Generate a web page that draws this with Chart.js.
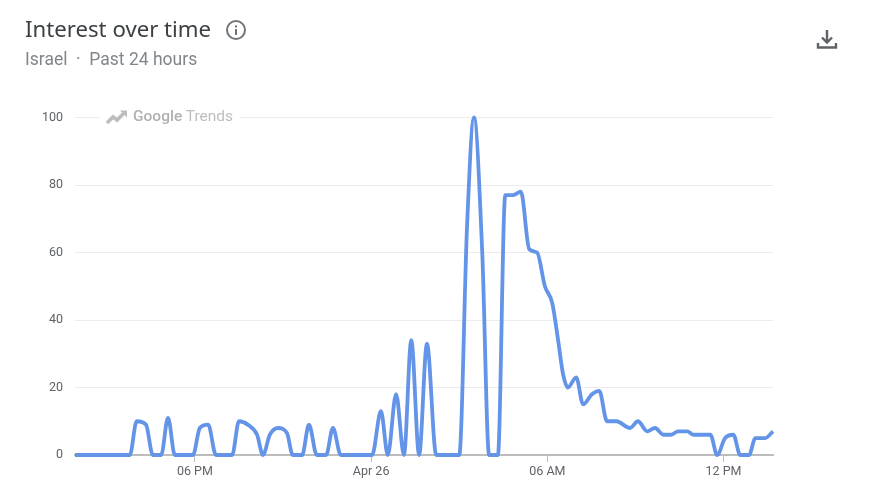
<!DOCTYPE html>
<html>
<head>
<meta charset="utf-8">
<title>Interest over time</title>
<script src="https://cdn.jsdelivr.net/npm/chart.js@4"></script>
<style>
	html, body { margin: 0; padding: 0; background: #fff; }
	#wrap { position: relative; width: 882px; height: 490px; overflow: hidden; font-family: Roboto, sans-serif; }
	#chart { position: absolute; left: 0; top: 0; }
	.title { position: absolute; left: 25px; top: 15px; font-family: "Noto Sans", sans-serif; font-size: 22.2px; line-height: 28px; color: #3c4043; white-space: nowrap; }
	.subtitle { position: absolute; left: 25px; top: 48px; font-size: 17.5px; line-height: 22px; color: #80868b; white-space: nowrap; }
	.info { position: absolute; left: 225px; top: 19px; }
	.download { position: absolute; left: 814px; top: 26px; }
	.mark { position: absolute; left: 100px; top: 106px; width: 140px; height: 22px; background: #fff; }
	.mark svg { position: absolute; left: 5px; top: 2px; }
	.mark span { position: absolute; left: 33px; top: 0; font-size: 15.5px; line-height: 20px; color: #bdbdbd; white-space: nowrap; }
	.mark b { font-weight: 500; color: #b0b0b0; }
</style>
</head>
<body>
<div id="wrap">
	<canvas id="chart" width="882" height="490"></canvas>
	<div class="title">Interest over time</div>
	<div class="subtitle">Israel &nbsp;&middot;&nbsp; Past 24 hours</div>
	<svg class="info" width="22" height="22" viewBox="0 0 22 22">
		<circle cx="11" cy="11" r="9" fill="none" stroke="#70757a" stroke-width="2"></circle>
		<rect x="10" y="10" width="2" height="6" fill="#70757a"></rect>
		<rect x="10" y="6.5" width="2" height="2" fill="#70757a"></rect>
	</svg>
	<svg class="download" width="26" height="26" viewBox="0 0 26 26">
		<path d="M13 4v12M8 11.5l5 5 5-5M4 17v4.5h18V17" fill="none" stroke="#5f6368" stroke-width="2.4"></path>
	</svg>
	<div class="mark">
		<svg width="24" height="18" viewBox="0 0 24 18">
			<path d="M2 15l6-6 4 3 8-8" fill="none" stroke="#bdbdbd" stroke-width="3.6"></path>
			<path d="M15 2.5h7v7z" fill="#bdbdbd"></path>
		</svg>
		<span><b>Google</b> Trends</span>
	</div>
</div>
<script>
// minutes counted from midnight of Apr 25
var minutes = [835, 947, 961, 980, 994, 1011, 1025, 1039, 1076, 1090, 1107, 1123, 1156, 1170, 1188, 1207, 1219,
	1233, 1250, 1268, 1280, 1299, 1313, 1329, 1348, 1362, 1378, 1442, 1460, 1474, 1491, 1507, 1522, 1538, 1554, 1573,
	1620, 1636, 1650, 1667, 1681, 1699, 1714, 1730, 1746, 1763, 1779, 1795, 1810, 1822, 1832, 1842, 1859, 1873, 1891,
	1906, 1922, 1941, 1969, 1985, 2004, 2020, 2037, 2053, 2067, 2086, 2098, 2133, 2147, 2163, 2180, 2194, 2212, 2225,
	2245, 2261];
var interest = [0, 0, 10, 9, 0, 0, 11, 0, 0, 8, 9, 0, 0, 10, 9, 6, 0,
	6, 8, 6.5, 0, 0, 9, 0, 0, 8, 0, 0, 13, 0, 18, 0, 34, 0, 33, 0,
	0, 68, 100, 60, 0, 0, 77, 77, 78, 61, 60, 50, 45, 34, 24, 20, 23, 15, 18,
	19, 10, 10, 8, 10, 7, 8, 6, 6, 7, 7, 6, 6, 0, 5, 6, 0, 0, 5,
	5, 7];
var x_ticks = [1080, 1440, 1800, 2160];
var x_labels = ['06 PM', 'Apr 26', '06 AM', '12 PM'];
var y_ticks = [0, 20, 40, 60, 80, 100];

var points = minutes.map(function(m, i) {
	return { x: m, y: interest[i] };
});

new Chart(document.getElementById('chart'), {
	type: 'line',
	data: {
		datasets: [{
			data: points,
			borderColor: '#6394e8',
			borderWidth: 3.8,
			pointRadius: 0,
			cubicInterpolationMode: 'monotone',
			clip: false
		}]
	},
	options: {
		responsive: false,
		animation: false,
		layout: { padding: { left: 0, right: 109, top: 117.5, bottom: 0 } },
		plugins: { legend: { display: false }, tooltip: { enabled: false } },
		scales: {
			x: {
				type: 'linear',
				min: 835,
				max: 2261,
				afterFit: function(scale) { scale.height = 35; },
				afterBuildTicks: function(scale) {
					scale.ticks = x_ticks.map(function(v) { return { value: v }; });
				},
				border: { color: '#bdbdbd', width: 2 },
				grid: { drawOnChartArea: false, color: '#bdbdbd', tickLength: 7, lineWidth: 1 },
				ticks: {
					maxRotation: 0,
					autoSkip: false,
					padding: 2,
					color: '#5f6368',
					font: { family: 'Roboto', size: 12.5 },
					callback: function(v) { return x_labels[x_ticks.indexOf(v)]; }
				}
			},
			y: {
				min: 0,
				max: 100,
				afterFit: function(scale) { scale.width = 75; },
				afterBuildTicks: function(scale) {
					scale.ticks = y_ticks.map(function(v) { return { value: v }; });
				},
				border: { display: false },
				grid: { color: '#ececec', lineWidth: 1, drawTicks: false },
				ticks: {
					padding: 12,
					color: '#5f6368',
					font: { family: 'Roboto', size: 12.5 }
				}
			}
		}
	}
});
</script>
</body>
</html>
